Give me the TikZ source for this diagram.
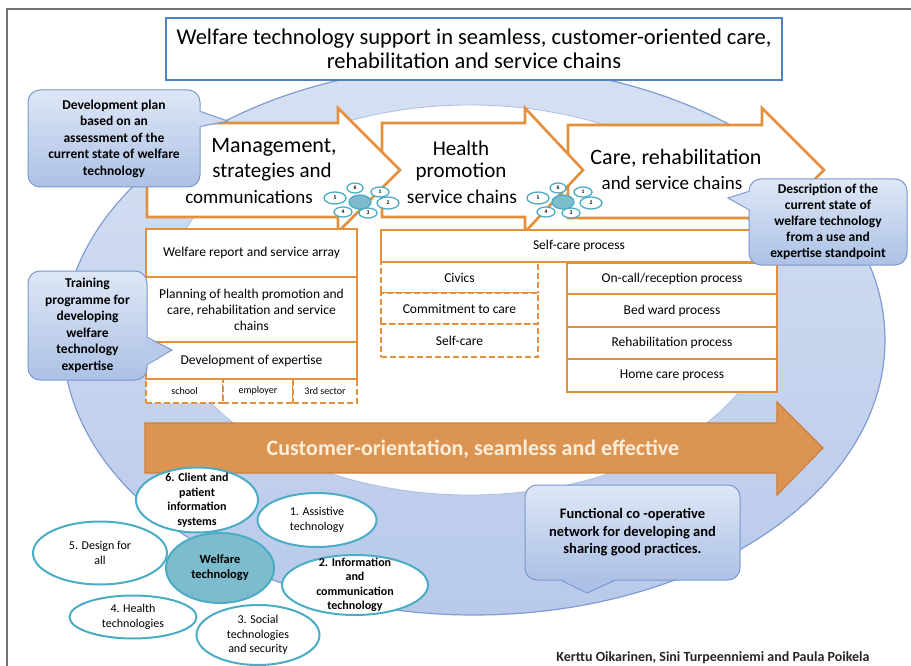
\documentclass[tikz,border=0pt]{standalone}
\usepackage{fontspec}
\setmainfont{Carlito}
\usetikzlibrary{shapes.geometric,calc}

\definecolor{orng}{RGB}{228,143,60}
\definecolor{bigfill}{RGB}{219,148,82}
\definecolor{bigline}{RGB}{205,128,58}
\definecolor{arrowtext}{RGB}{253,238,218}
\definecolor{ringtop}{RGB}{214,225,243}
\definecolor{ringbot}{RGB}{184,201,234}
\definecolor{ringline}{RGB}{128,156,210}
\definecolor{innerline}{RGB}{170,190,228}
\definecolor{titleline}{RGB}{79,129,189}
\definecolor{calltop}{RGB}{222,231,246}
\definecolor{callbot}{RGB}{172,193,229}
\definecolor{calloutline}{RGB}{124,152,206}
\definecolor{petalline}{RGB}{75,172,198}
\definecolor{hubfill}{RGB}{125,188,204}
\definecolor{framegray}{RGB}{115,115,115}

\tikzstyle{titlebox}=[draw=titleline, line width=2pt, fill=white, minimum width=616pt, minimum height=62pt, align=center, font=\fontsize{22.5}{24}\selectfont]
\tikzstyle{chain}=[draw=orng, line width=2.6pt, fill=white]
\tikzstyle{chaintext}=[inner sep=0pt]
\tikzstyle{procbox}=[draw=orng, line width=2.2pt, fill=white, align=center, inner sep=2pt, font=\fontsize{13.5}{16}\selectfont]
\tikzstyle{dashbox}=[procbox, dash pattern=on 6pt off 3pt]
\tikzstyle{bigarrow}=[draw=bigline, line width=1.2pt, fill=bigfill]
\tikzstyle{callout}=[draw=calloutline, line width=1pt, top color=calltop, bottom color=callbot, rounded corners=12pt, align=center, font=\bfseries\fontsize{13.5}{16.5}\selectfont]
\tikzstyle{tail}=[draw=calloutline, line width=1pt]
\tikzstyle{petal}=[ellipse, draw=petalline, line width=2pt, fill=white, inner sep=0pt]
\tikzstyle{ptext}=[align=center, inner sep=0pt, font=\fontsize{12}{14.5}\selectfont]
\tikzstyle{minipetal}=[ellipse, draw=petalline, line width=1.3pt, fill=white, inner sep=0pt, font=\bfseries\fontsize{5.5}{5.5}\selectfont]
\tikzstyle{minihub}=[ellipse, draw=petalline, line width=1.3pt, fill=hubfill, inner sep=0pt, minimum width=22pt, minimum height=14pt]

\begin{document}
\begin{tikzpicture}[x=1pt,y=-1pt]
\useasboundingbox (0,0) rectangle (911,666);

% ring in the background
\draw[ringline, line width=1.2pt, top color=ringtop, bottom color=ringbot] (474,340) ellipse [x radius=411, y radius=275];
\draw[innerline, line width=0.8pt, fill=white] (470,300) ellipse [x radius=305, y radius=195];

% frame
\draw[framegray, line width=2.2pt] (7,666) -- (7,9) -- (911,9);

% title
\node[titlebox] (title) at (474,49) {Welfare technology support in seamless, customer-oriented care,\\rehabilitation and service chains};

% chain arrows, back to front
\draw[chain] (568,125) -- (762,125) -- (762,108) -- (824,170) -- (762,232) -- (762,218) -- (568,218) -- cycle;
\draw[chain] (382,123) -- (525,123) -- (525,108) -- (583,170) -- (525,232) -- (525,217) -- (382,217) -- cycle;
\draw[chain] (147,123) -- (338,123) -- (338,108) -- (400,170) -- (338,232) -- (338,217) -- (147,217) -- cycle;

\node[chaintext, font=\fontsize{22}{24}\selectfont] (mg1) at (274,147) {Management,};
\node[chaintext, font=\fontsize{21}{24}\selectfont] (mg2) at (272,172) {strategies and};
\node[chaintext, font=\fontsize{19}{24}\selectfont] (mg3) at (249,197) {communications};
\node[chaintext, font=\fontsize{21}{24}\selectfont] (hp1) at (461,148) {Health};
\node[chaintext, font=\fontsize{21}{24}\selectfont] (hp2) at (461,172) {promotion};
\node[chaintext, font=\fontsize{19.5}{24}\selectfont] (hp3) at (462,197) {service chains};
\node[chaintext, font=\fontsize{22}{24}\selectfont] (cr1) at (676,158) {Care, rehabilitation};
\node[chaintext, font=\fontsize{19}{24}\selectfont] (cr2) at (672,183) {and service chains};

% small flowers between the chains
\foreach \cx/\nm in {360/ma, 563/mb} {
  \foreach \dx/\dy/\w/\h/\k in {-5/-14/16/10/6, 20/-10/18/10/1, 28/1/22/12/2, 8/11/18/10/3, -17/10/18/10/4, -25/-4/22/12/5}
    \node[minipetal, minimum width=\w pt, minimum height=\h pt] (\nm\k) at (\cx+\dx,202+\dy) {\k};
  \node[minihub] (\nm0) at (\cx,202) {};
}

% process boxes
\node[dashbox, minimum width=77pt, minimum height=24pt, font=\fontsize{10}{12}\selectfont] (school) at (184.5,391) {school};
\node[dashbox, minimum width=70pt, minimum height=24pt, font=\fontsize{10}{12}\selectfont] (employer) at (258,391) {employer};
\node[dashbox, minimum width=64pt, minimum height=24pt, font=\fontsize{10}{12}\selectfont] (sector) at (325,391) {3rd sector};
\node[dashbox, minimum width=157pt, minimum height=31pt] (civics) at (459.5,277.5) {Civics};
\node[dashbox, minimum width=157pt, minimum height=31pt] (commit) at (459.5,308.5) {Commitment to care};
\node[dashbox, minimum width=157pt, minimum height=33pt] (selfcare) at (459.5,340.5) {Self-care};

\node[procbox, minimum width=211pt, minimum height=48pt] (report) at (251.5,253) {Welfare report and service array};
\node[procbox, minimum width=211pt, minimum height=65pt] (plan) at (251.5,309.5) {Planning of health promotion and\\care, rehabilitation and service\\chains};
\node[procbox, minimum width=211pt, minimum height=37pt] (expert) at (251.5,360.5) {Development of expertise};
\node[procbox, minimum width=396pt, minimum height=32pt] (selfproc) at (579,246) {Self-care process};
\node[procbox, minimum width=210pt, minimum height=31pt] (oncall) at (672,278.5) {On-call/reception process};
\node[procbox, minimum width=210pt, minimum height=33pt] (bedward) at (672,310.5) {Bed ward process};
\node[procbox, minimum width=210pt, minimum height=32pt] (rehab) at (672,343) {Rehabilitation process};
\node[procbox, minimum width=210pt, minimum height=33pt] (homecare) at (672,375.5) {Home care process};

% big arrow
\draw[bigarrow] (145,423) -- (777,423) -- (777,402) -- (823,448) -- (777,495) -- (777,473) -- (145,473) -- cycle;
\node[text=arrowtext, font=\bfseries\fontsize{22}{24}\selectfont] (cust) at (473,449) {Customer-orientation, seamless and effective};

% welfare technology flower
\node[petal, minimum width=122pt, minimum height=65pt] (p6) at (197,500) {};
\node[petal, minimum width=119pt, minimum height=54pt] (p1) at (317,520) {};
\node[petal, minimum width=146pt, minimum height=60pt] (p2) at (355,585) {};
\node[petal, minimum width=123pt, minimum height=60pt] (p3) at (258,635) {};
\node[petal, minimum width=127pt, minimum height=43pt] (p4) at (133,617) {};
\node[petal, minimum width=134pt, minimum height=63pt] (p5) at (100,553) {};
\node[petal, fill=hubfill, minimum width=108pt, minimum height=70pt] (hub) at (220,568) {};
\node[ptext, font=\bfseries\fontsize{12}{14.5}\selectfont] (p6t) at (p6) {6. Client and\\patient\\information\\systems};
\node[ptext] (p1t) at (p1) {1. Assistive\\technology};
\node[ptext, font=\bfseries\fontsize{12}{14.5}\selectfont] (p2t) at (p2) {2. Information\\and\\communication\\technology};
\node[ptext] (p3t) at (p3) {3. Social\\technologies\\and security};
\node[ptext] (p4t) at (p4) {4. Health\\technologies};
\node[ptext] (p5t) at (p5) {5. Design for\\all};
\node[ptext, font=\bfseries\fontsize{12.5}{15}\selectfont] (hubt) at (hub) {Welfare\\technology};

% callouts
\node[callout, minimum width=172pt, minimum height=97pt] (dev) at (114,138.5) {Development plan\\based on an\\assessment of the\\current state of welfare\\technology};
\coordinate (devtip) at (228,121);
\path[fill=calltop!68!callbot] ($(dev.north east)+(-2,22)$) -- (devtip) -- ($(dev.north east)+(-2,37)$) -- cycle;
\draw[tail] ($(dev.north east)+(0,22)$) -- (devtip) -- ($(dev.north east)+(0,37)$);

\node[callout, minimum width=119pt, minimum height=109pt] (train) at (87.5,325.5) {Training\\programme for\\developing\\welfare\\technology\\expertise};
\coordinate (traintip) at (172,350);
\path[fill=calltop!26!callbot] ($(train.north east)+(-2,67)$) -- (traintip) -- ($(train.north east)+(-2,94)$) -- cycle;
\draw[tail] ($(train.north east)+(0,67)$) -- (traintip) -- ($(train.north east)+(0,94)$);

\node[callout, minimum width=158pt, minimum height=86pt, font=\bfseries\fontsize{13.5}{16}\selectfont] (descr) at (828,222) {Description of the\\current state of\\welfare technology\\from a use and\\expertise standpoint};
\coordinate (descrtip) at (728,198);
\path[fill=calltop!74!callbot] ($(descr.north west)+(2,13)$) -- (descrtip) -- ($(descr.north west)+(2,31)$) -- cycle;
\draw[tail] ($(descr.north west)+(0,13)$) -- (descrtip) -- ($(descr.north west)+(0,31)$);

\node[callout, minimum width=215pt, minimum height=95pt, font=\bfseries\fontsize{14.5}{17.5}\selectfont] (netw) at (632.5,532.5) {Functional co -operative\\network for developing and\\sharing good practices.};
\coordinate (netwtip) at (587,593);
\path[fill=callbot] ($(netw.south west)+(37,-2)$) -- (netwtip) -- ($(netw.south west)+(90,-2)$) -- cycle;
\draw[tail] ($(netw.south west)+(37,0)$) -- (netwtip) -- ($(netw.south west)+(90,0)$);

% authors
\node[font=\bfseries\fontsize{14}{16}\selectfont, text=black!85] (authors) at (713,658) {Kerttu Oikarinen, Sini Turpeenniemi and Paula Poikela};
\end{tikzpicture}
\end{document}
